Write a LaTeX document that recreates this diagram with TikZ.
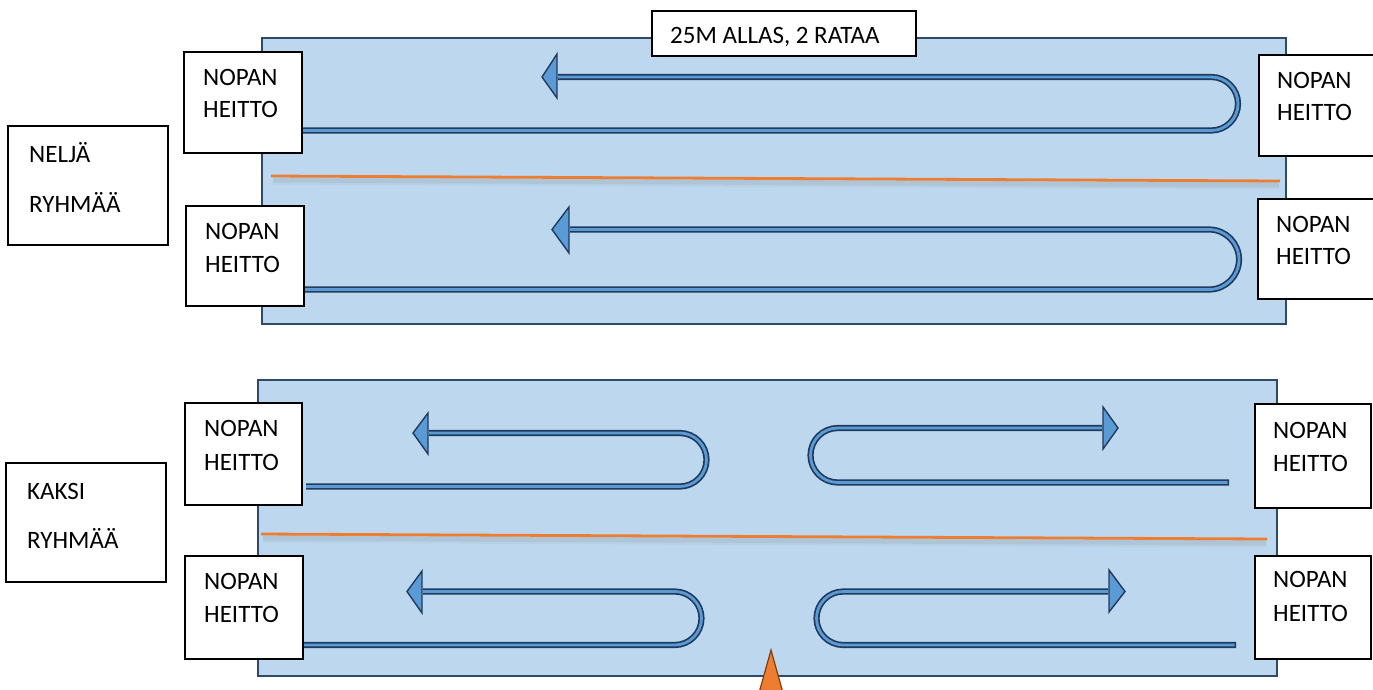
\documentclass[tikz,border=0pt]{standalone}
\usepackage{fontspec}
\setmainfont{Carlito}
\definecolor{poolfill}{HTML}{BDD7EE}
\definecolor{poolline}{HTML}{2E4A68}
\definecolor{arrfill}{HTML}{5B9BD5}
\definecolor{arrline}{HTML}{1F3A5C}
\definecolor{orangeln}{HTML}{ED7D31}
\definecolor{orangedk}{HTML}{843C0C}
\begin{document}
\begin{tikzpicture}[x=1pt,y=-1pt,
  pool/.style={draw=poolline,fill=poolfill,line width=1.6pt},
  wbox/.style={draw=black,fill=white,line width=1.4pt},
  txt/.style={inner sep=0pt,anchor=base west,font=\fontsize{25}{29}\selectfont},
  shaftout/.style={draw=arrline,line width=6.2pt},
  shaftin/.style={draw=arrfill,line width=2.8pt},
  head/.style={draw=arrline,fill=arrfill,line width=1.4pt,line join=miter},
  lane/.style={draw=orangeln,line width=2.8pt},
  laneshadowa/.style={draw=black!60,line width=9pt,opacity=0.06},
  laneshadowb/.style={draw=black!60,line width=5pt,opacity=0.10}]
\useasboundingbox (0,0) rectangle (1373,689);
\fill[white] (0,0) rectangle (1373,689);
% pools
\path[pool] (262,38) rectangle (1286,324);
\path[pool] (258,380) rectangle (1277,676);
% lane lines with soft shadow
\draw[laneshadowa] (273,180) -- (1279,185);
\draw[laneshadowb] (273,180) -- (1279,185);
\draw[lane] (271,176) -- (1280,181);
\draw[laneshadowa] (263,538) -- (1266,543);
\draw[laneshadowb] (263,538) -- (1266,543);
\draw[lane] (261,534) -- (1267,539);
% arrow 1
\draw[shaftout,rounded corners=26.75pt] (301,130.5) -- (1238,130.5) -- (1238,77) -- (558,77);
\draw[shaftin,rounded corners=26.75pt] (301,130.5) -- (1238,130.5) -- (1238,77) -- (558,77);
\draw[head] (557,54) -- (542,77) -- (557,98) -- cycle;
% arrow 2
\draw[shaftout,rounded corners=30pt] (304,289.5) -- (1239,289.5) -- (1239,229.5) -- (570,229.5);
\draw[shaftin,rounded corners=30pt] (304,289.5) -- (1239,289.5) -- (1239,229.5) -- (570,229.5);
\draw[head] (569,207) -- (552,229.5) -- (569,253) -- cycle;
% arrow 3
\draw[shaftout,rounded corners=26.75pt] (306,486.5) -- (706.5,486.5) -- (706.5,433) -- (429,433);
\draw[shaftin,rounded corners=26.75pt] (306,486.5) -- (706.5,486.5) -- (706.5,433) -- (429,433);
\draw[head] (428,413) -- (413,433) -- (428,454) -- cycle;
% arrow 4
\draw[shaftout,rounded corners=27.25pt] (1229,482.5) -- (810.5,482.5) -- (810.5,428) -- (1102,428);
\draw[shaftin,rounded corners=27.25pt,shorten <=1.5pt] (1229,482.5) -- (810.5,482.5) -- (810.5,428) -- (1102,428);
\draw[head] (1103,407) -- (1118,428) -- (1103,449) -- cycle;
% arrow 5
\draw[shaftout,rounded corners=26.75pt] (303,645) -- (701.5,645) -- (701.5,591.5) -- (423,591.5);
\draw[shaftin,rounded corners=26.75pt] (303,645) -- (701.5,645) -- (701.5,591.5) -- (423,591.5);
\draw[head] (422,571) -- (407,591.5) -- (422,613) -- cycle;
% arrow 6
\draw[shaftout,rounded corners=26.75pt] (1236,645) -- (816.5,645) -- (816.5,591.5) -- (1108,591.5);
\draw[shaftin,rounded corners=26.75pt,shorten <=1.5pt] (1236,645) -- (816.5,645) -- (816.5,591.5) -- (1108,591.5);
\draw[head] (1109,570) -- (1125,591.5) -- (1109,612) -- cycle;
% orange marker
\draw[fill=orangeln,draw=orangedk,line width=1.2pt,line join=miter] (771,650) -- (785,700) -- (757,700) -- cycle;
% boxes
\path[wbox] (184,52) rectangle (302,153);
\node[txt] (t1a) at (203,85) {NOPAN};
\node[txt] (t1b) at (203,117) {HEITTO};
\path[wbox] (1259,55) rectangle (1380,156);
\node[txt] (t2a) at (1277,88) {NOPAN};
\node[txt] (t2b) at (1277,120) {HEITTO};
\path[wbox] (186,206) rectangle (304,306);
\node[txt] (t3a) at (205,239) {NOPAN};
\node[txt] (t3b) at (205,272) {HEITTO};
\path[wbox] (1258,199) rectangle (1380,299);
\node[txt] (t4a) at (1276,232) {NOPAN};
\node[txt] (t4b) at (1276,264) {HEITTO};
\path[wbox] (185,403) rectangle (302,505);
\node[txt] (t5a) at (204,436) {NOPAN};
\node[txt] (t5b) at (204,470) {HEITTO};
\path[wbox] (1255,404) rectangle (1371,508);
\node[txt] (t6a) at (1273,438) {NOPAN};
\node[txt] (t6b) at (1273,471) {HEITTO};
\path[wbox] (185,556) rectangle (303,659);
\node[txt] (t7a) at (204,589) {NOPAN};
\node[txt] (t7b) at (204,622) {HEITTO};
\path[wbox] (1255,556) rectangle (1371,659);
\node[txt] (t8a) at (1273,587) {NOPAN};
\node[txt] (t8b) at (1273,621) {HEITTO};
% group labels
\path[wbox] (8,126) rectangle (168,245);
\node[txt] (g1a) at (29,162) {NELJÄ};
\node[txt] (g1b) at (29,212) {RYHMÄÄ};
\path[wbox] (6,463) rectangle (166,582);
\node[txt] (g2a) at (27,499) {KAKSI};
\node[txt] (g2b) at (27,548) {RYHMÄÄ};
% title
\path[wbox] (652,11) rectangle (916,56);
\node[txt] (title) at (670,43) {25M ALLAS, 2 RATAA};
\end{tikzpicture}
\end{document}
